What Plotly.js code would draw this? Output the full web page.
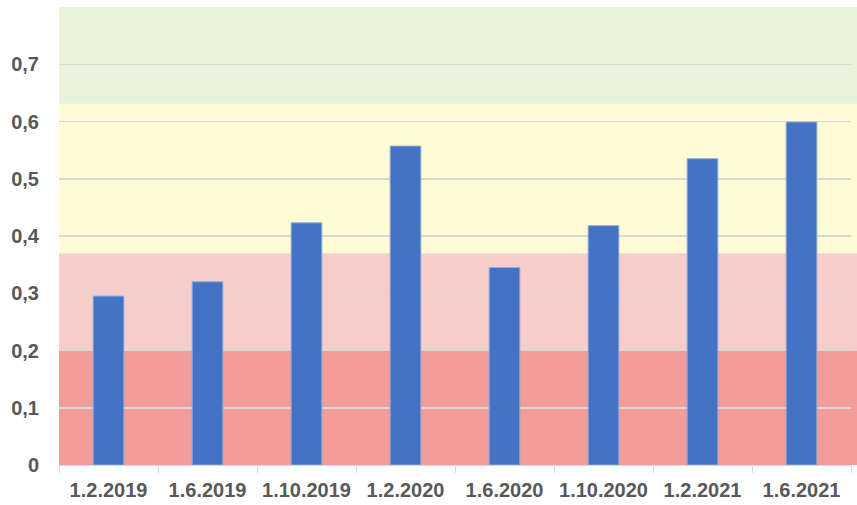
<!DOCTYPE html>
<html>
<head>
<meta charset="utf-8">
<script src="https://cdn.plot.ly/plotly-3.0.1.min.js"></script>
<style>html,body{margin:0;padding:0;background:#fff;}#chart{width:857px;height:505px;}</style>
</head>
<body>
<div id="chart"></div>
<script>
const categories = ["1.2.2019", "1.6.2019", "1.10.2019", "1.2.2020", "1.6.2020", "1.10.2020", "1.2.2021", "1.6.2021"];
const values = [0.295, 0.320, 0.423, 0.557, 0.345, 0.418, 0.535, 0.599];
const yTickVals = [0, 0.1, 0.2, 0.3, 0.4, 0.5, 0.6, 0.7];
const yTickText = ["0", "0,1", "0,2", "0,3", "0,4", "0,5", "0,6", "0,7"];
const bandBounds = [0, 0.2, 0.37, 0.631, 0.8];
const bandColors = ["#F29D9A", "#F7CDCC", "#FFFCD5", "#E7F3DA"];

const shapes = bandColors.map((c, i) => ({
  type: "rect", xref: "paper", yref: "y",
  x0: 0, x1: 1.008, y0: bandBounds[i], y1: bandBounds[i + 1],
  fillcolor: c, line: {width: 0}, layer: "below"
}));

const font = {family: "Liberation Sans, Arial, sans-serif", size: 20, color: "#595959", weight: "bold"};

Plotly.newPlot("chart", [{
  type: "bar", x: categories, y: values,
  marker: {color: "#4472C4", line: {color: "#8EA9DB", width: 1}},
  hoverinfo: "skip"
}], {
  width: 857, height: 505,
  margin: {l: 59, r: 6, t: 7, b: 40},
  paper_bgcolor: "#ffffff", plot_bgcolor: "rgba(0,0,0,0)",
  bargap: 0.69,
  showlegend: false,
  shapes: shapes,
  xaxis: {
    type: "category", tickson: "boundaries", ticks: "outside", ticklen: 7, tickcolor: "#D9D9D9",
    showline: true, linecolor: "#D9D9D9", linewidth: 1, showgrid: false,
    ticklabelstandoff: 7,
    tickfont: font
  },
  yaxis: {
    range: [0, 0.8], tickvals: yTickVals, ticktext: yTickText,
    showgrid: true, gridcolor: "#D9D9D9", gridwidth: 1.5, zeroline: false,
    showline: false, ticks: "", ticklabelstandoff: 19,
    tickfont: font
  }
}, {staticPlot: true});
</script>
</body>
</html>
